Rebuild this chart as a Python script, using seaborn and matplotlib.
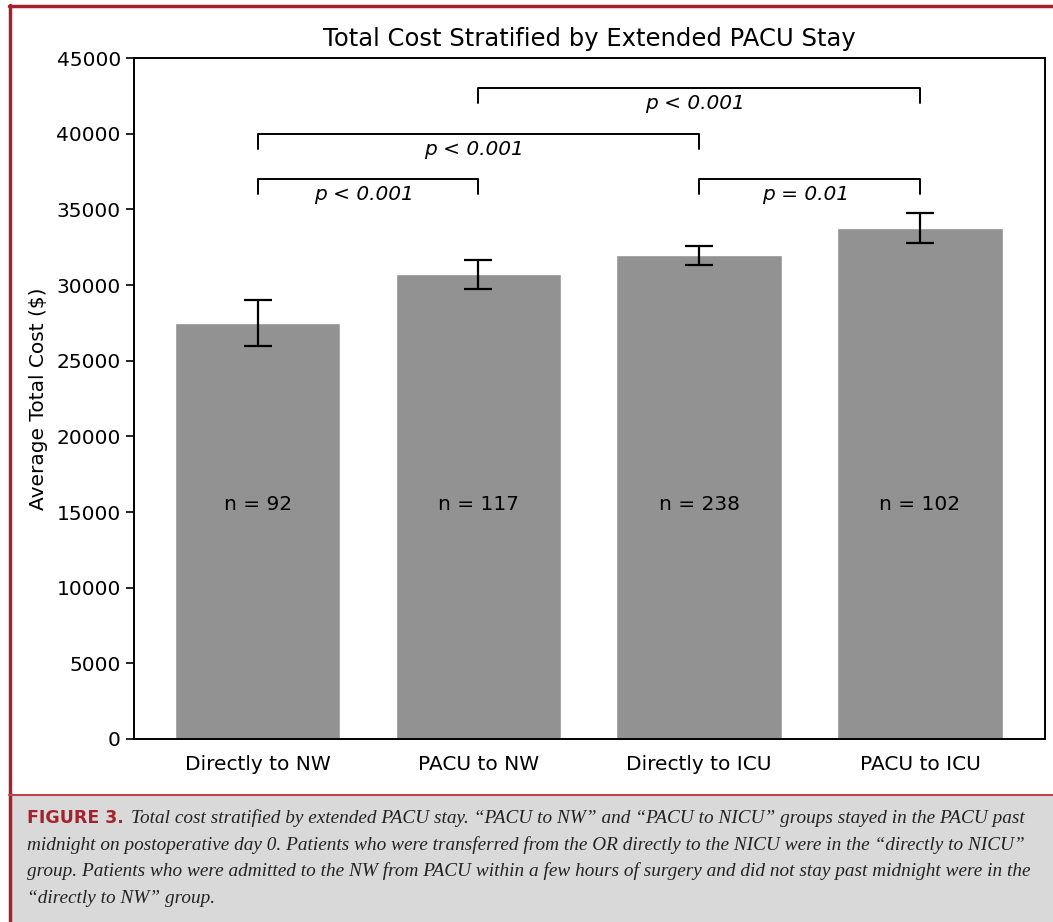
import matplotlib
matplotlib.use("Agg")
import matplotlib.pyplot as plt
import seaborn as sns
import pandas as pd
from matplotlib.lines import Line2D
from matplotlib.patches import Rectangle

# data
groups = ["Directly to NW", "PACU to NW", "Directly to ICU", "PACU to ICU"]
avg_cost = [27500, 30700, 31950, 33780]
cost_err = [1500, 960, 640, 1000]
n_labels = ["n = 92", "n = 117", "n = 238", "n = 102"]

# significance brackets: (left bar, right bar, height, label)
brk_left = [0, 0, 2, 1]
brk_right = [1, 2, 3, 3]
brk_height = [37000, 40000, 37000, 43000]
brk_text = ["p < 0.001", "p < 0.001", "p = 0.01", "p < 0.001"]

caption_lines = [
    "Total cost stratified by extended PACU stay. \u201cPACU to NW\u201d and \u201cPACU to NICU\u201d groups stayed in the PACU past",
    "midnight on postoperative day 0. Patients who were transferred from the OR directly to the NICU were in the \u201cdirectly to NICU\u201d",
    "group. Patients who were admitted to the NW from PACU within a few hours of surgery and did not stay past midnight were in the",
    "\u201cdirectly to NW\u201d group.",
]

df = pd.DataFrame({"group": groups, "cost": avg_cost})

sns.set_style("white")
plt.rcParams["font.family"] = ["DejaVu Sans"]
plt.rcParams.update({"text.color": "black", "axes.labelcolor": "black",
                     "xtick.color": "black", "ytick.color": "black"})

W, H = 1053, 922
fig = plt.figure(figsize=(W / 100, H / 100), dpi=100)
ax = fig.add_axes([134 / W, 1 - 739 / H, (1045 - 134) / W, (739 - 58) / H])

sns.barplot(data=df, x="group", y="cost", color="#929292", saturation=1,
            width=0.75, errorbar=None, ax=ax)
ax.errorbar(range(len(groups)), avg_cost, yerr=cost_err, fmt="none",
            ecolor="black", elinewidth=1.6, capsize=10, capthick=1.6)

# n labels
for i, lab in enumerate(n_labels):
    ax.text(i, 15500, lab, ha="center", va="center", fontsize=14.5)

# brackets
drop = 1000
for l, r, h, t in zip(brk_left, brk_right, brk_height, brk_text):
    ax.plot([l, l, r, r], [h - drop, h, h, h - drop], color="black", lw=1.4)
    ax.text((l + r) / 2 - 0.02, h - 400, t, ha="center", va="top", fontsize=14.5,
            style="italic")

ax.set_xlim(-0.56, 3.566)
ax.set_ylim(0, 45000)
ax.set_yticks(range(0, 45001, 5000))
ax.set_xlabel("")
ax.set_ylabel("Average Total Cost ($)", fontsize=14.5, labelpad=6)
ax.set_title("Total Cost Stratified by Extended PACU Stay", fontsize=17.5, pad=9)
ax.tick_params(axis="y", left=True, length=6, width=1.2, labelsize=14.5)
ax.tick_params(axis="x", bottom=False, labelsize=14.5, pad=8)
for s in ax.spines.values():
    s.set_color("black")
    s.set_linewidth(1.4)

# frame and caption box
red = "#a5212b"
fig.patches.append(Rectangle((10 / W, 0), 1 - 10 / W, 1 - 796 / H,
                             transform=fig.transFigure, color="#d9d9d9", zorder=0))
fig.lines.append(Line2D([9 / W, 1], [1 - 6 / H, 1 - 6 / H], transform=fig.transFigure,
                        color=red, lw=2.5))
fig.lines.append(Line2D([9.5 / W, 9.5 / W], [0, 1 - 5 / H], transform=fig.transFigure,
                        color=red, lw=2.5))
fig.lines.append(Line2D([9 / W, 1], [1 - 795 / H, 1 - 795 / H], transform=fig.transFigure,
                        color="#c0444b", lw=1.5))

fig.text(27 / W, 1 - 818 / H, "FIGURE 3.", color=red, fontsize=12.5, weight="bold",
         family=["Liberation Sans Narrow", "DejaVu Sans"], va="center")
line_y = [818, 845, 871, 898]
line_x = [131, 27, 27, 27]
for t, x, y in zip(caption_lines, line_x, line_y):
    fig.text(x / W, 1 - y / H, t, fontsize=13.85, style="italic", color="#222222",
             family=["Liberation Serif", "DejaVu Serif"], va="center")

fig.savefig("out.png", dpi=100)
